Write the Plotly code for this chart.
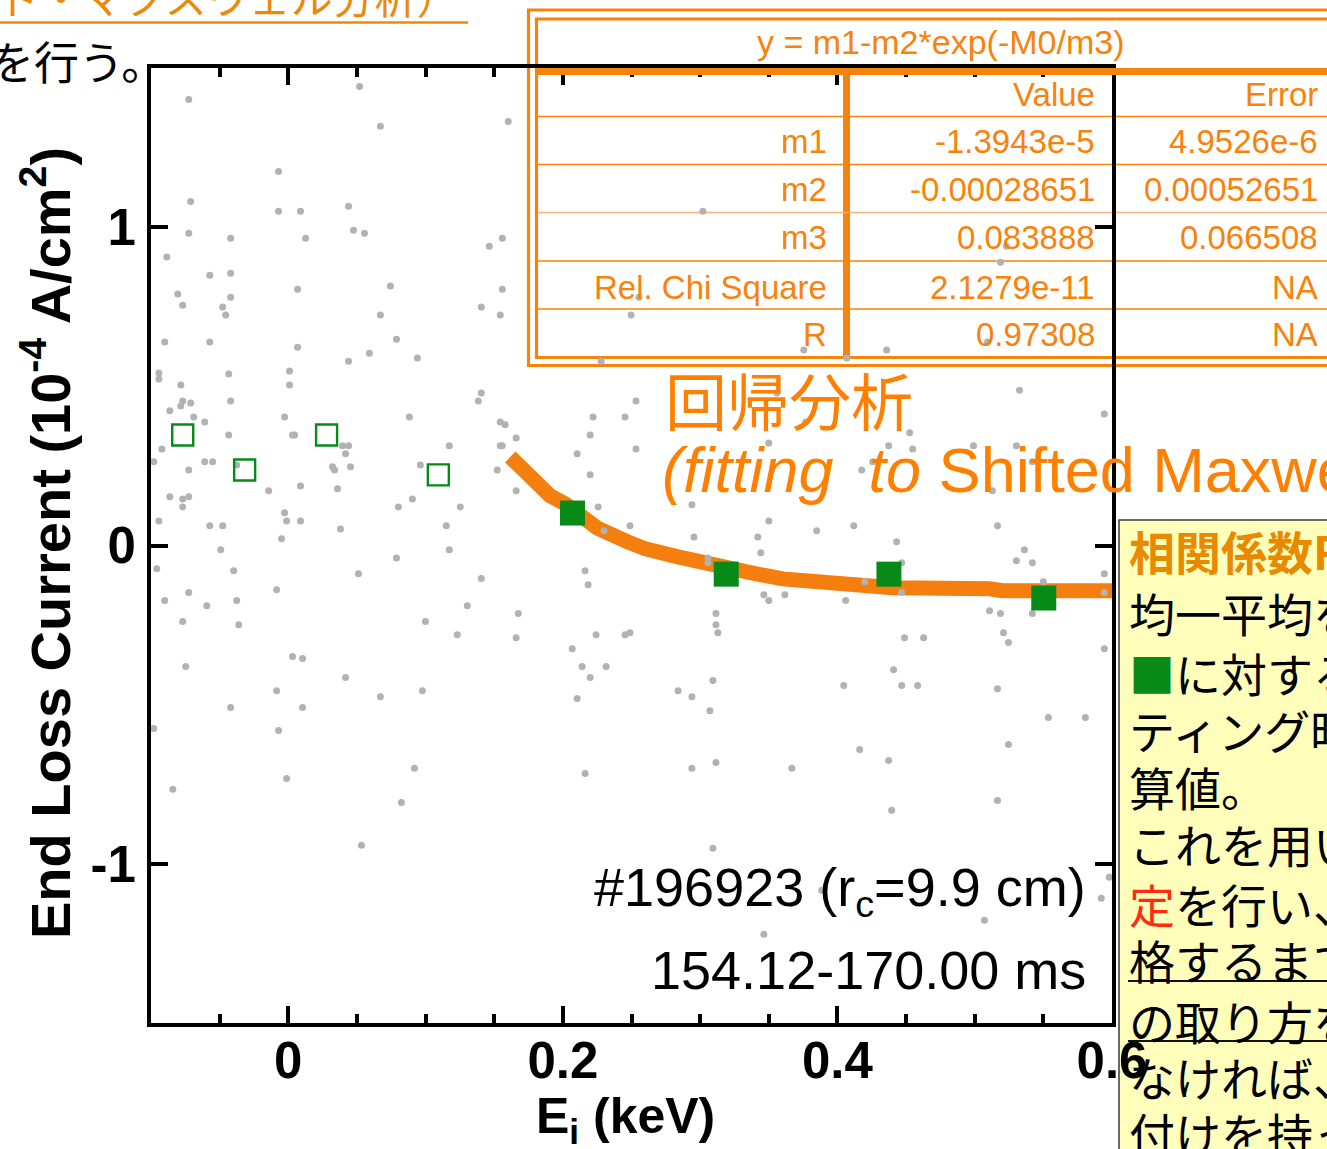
import plotly.graph_objects as go

# ---------------- data ----------------
noise_x = [-0.0725, 0.0519, 0.0671, -0.0071, -0.0711, -0.0071, 0.0089, 0.0439, -0.0725, -0.0420,
           0.0126, 0.0475, 0.0555, -0.0885, -0.0572, -0.0420, -0.0805, -0.0769, -0.0420, -0.0478,
           -0.0456, 0.0068, 0.0744, 0.0671, -0.0900, -0.0572, 0.0068, 0.0788, 0.0591, 0.0439,
           0.0940, -0.0943, -0.0943, -0.0783, -0.0434, 0.0009, 0.0009, 0.1602, 0.3020, 0.1559,
           0.1464, 0.1559, 0.1406, 0.1544, 0.2555, 0.2497, 0.2279, 0.5231, 0.5188, 0.3755,
           0.4068, 0.4359, 0.5093, -0.0769, -0.0783, -0.0711, -0.0420, -0.0863, -0.0689, -0.0609,
           -0.0027, 0.0882, -0.0434, 0.0031, 0.0046, 0.0395, 0.0439, 0.0417, -0.0921, -0.0980,
           -0.0609, -0.0551, -0.0376, -0.0725, 0.0322, 0.0337, 0.0453, 0.1173, 0.0962, 0.0089,
           -0.0143, 0.0359, -0.0863, -0.0769, -0.0725, -0.0769, 0.0904, 0.0802, 0.1253, -0.0943,
           -0.0027, -0.0012, 0.0089, -0.0572, -0.0478, 0.0380, 0.1151, -0.0049, -0.0492, 0.1173,
           0.0788, -0.0958, -0.0398, 0.0511, -0.0085, -0.0725, -0.0900, -0.0594, -0.0376, 0.1304,
           -0.0769, -0.0361, 0.0999, 0.1231, 0.0031, 0.0104, -0.0747, 0.0417, -0.0085, 0.0671,
           0.0977, -0.0420, 0.0104, -0.0980, -0.0071, -0.0841, -0.0012, 0.0919, 0.0824, 0.0533,
           0.1406, 0.1384, 0.2533, 0.2220, 0.2453, 0.1544, 0.1580, 0.1660, 0.2199, 0.1544,
           0.1559, 0.2533, 0.2104, 0.1522, 0.2199, 0.1660, 0.2940, 0.2257, 0.2489, 0.2300,
           0.2955, 0.3057, 0.3057, 0.2162, 0.2184, 0.1406, 0.1675, 0.1660, 0.2242, 0.2453,
           0.2489, 0.2068, 0.2140, 0.2315, 0.2199, 0.2104, 0.2839, 0.2940, 0.3093, 0.3115,
           0.3115, 0.3129, 0.3500, 0.3420, 0.3442, 0.3464, 0.3500, 0.3617, 0.3500, 0.3559,
           0.3071, 0.2162, 0.2940, 0.3115, 0.3093, 0.3464, 0.3668,
           0.5326, 0.5944, 0.3769, 0.4526, 0.4373, 0.4548, 0.4991, 0.5304, 0.4257, 0.4177,
           0.5420, 0.5129, 0.3849, 0.4119, 0.5166, 0.4431, 0.5362, 0.5304, 0.5420, 0.4468,
           0.5944, 0.4199, 0.5500, 0.4468, 0.5944, 0.4060, 0.5108, 0.5188, 0.5420, 0.5210,
           0.5246, 0.4489, 0.4628, 0.5944, 0.4409, 0.4046, 0.4468, 0.4584, 0.5166,
           0.5537, 0.5806, 0.5246, 0.4162, 0.4373, 0.5166, 0.4395, 0.5980, 0.5922, 0.5071, 0.3886]
noise_y = [1.401, 1.442, 1.317, 1.175, 1.081, 1.050, 1.050, 1.066, 0.981, 0.965,
           0.965, 0.990, 0.981, 0.906, 0.849, 0.855, 0.790, 0.755, 0.780, 0.749,
           0.724, 0.805, 0.815, 0.724, 0.639, 0.639, 0.623, 0.648, 0.604, 0.579,
           0.589, 0.542, 0.523, 0.504, 0.539, 0.548, 0.504, 1.332, 1.050, 0.965,
           0.940, 0.805, 0.749, 0.724, 0.780, 0.724, 0.579, 0.940, 0.890, 0.614,
           0.589, 0.614, 0.639, 0.454, 0.438, 0.448, 0.454, 0.423, 0.404, 0.388,
           0.404, 0.404, 0.347, 0.347, 0.347, 0.313, 0.313, 0.288, 0.303, 0.263,
           0.263, 0.263, 0.253, 0.237, 0.247, 0.237, 0.247, 0.313, 0.253, 0.187,
           0.172, 0.178, 0.153, 0.146, 0.153, 0.121, 0.146, 0.121, 0.121, 0.077,
           0.103, 0.077, 0.077, 0.062, 0.062, 0.052, 0.062, 0.021, -0.013, -0.013,
           -0.039, -0.073, -0.079, -0.089, -0.139, -0.148, -0.173, -0.189, -0.173, -0.189,
           -0.239, -0.249, -0.239, -0.280, -0.349, -0.355, -0.380, -0.415, -0.456, -0.475,
           -0.456, -0.509, -0.509, -0.575, -0.581, -0.766, -0.732, -0.700, -0.807, -0.942,
           0.479, 0.454, 0.454, 0.404, 0.404, 0.388, 0.379, 0.338, 0.347, 0.313,
           0.313, 0.303, 0.288, 0.237, 0.222, 0.172, 0.128, 0.121, 0.062, 0.046,
           0.027, -0.039, -0.054, -0.079, -0.123, -0.104, -0.214, -0.290, -0.280, -0.280,
           -0.274, -0.324, -0.380, -0.380, -0.415, -0.481, -0.456, -0.475, -0.424, -0.214,
           -0.249, -0.274, 0.077, 0.027, -0.023, -0.155, -0.173, -0.155, 0.322, 0.479,
           -0.519, -0.716, -0.700, -0.682, -0.951, -1.221, -0.700,
           0.488, 0.413, 0.388, 0.354, 0.313, 0.303, 0.313, 0.313, 0.263, 0.237,
           0.263, 0.172, 0.046, 0.062, 0.062, 0.012, -0.013, -0.048, -0.054, -0.054,
           -0.089, -0.114, -0.114, -0.148, -0.148, -0.173, -0.205, -0.214, -0.214, -0.274,
           -0.305, -0.290, -0.290, -0.324, -0.390, -0.440, -0.440, -0.440, -0.450,
           -0.540, -0.540, -0.625, -0.641, -0.675, -0.801, -0.832, -1.042, -1.108, -1.177, -1.083]

open_x = [-0.0769, -0.0318, 0.0279, 0.1093]
open_y = [0.347, 0.237, 0.347, 0.222]
fill_x = [0.207, 0.319, 0.4375, 0.5503]
fill_y = [0.102, -0.090, -0.090, -0.165]

fit_x = [0.1617, 0.1908, 0.2017, 0.2250, 0.2468, 0.2598, 0.2831, 0.3093, 0.3340, 0.3602,
         0.4089, 0.4402, 0.5108, 0.5202, 0.6053]
fit_y = [0.278, 0.156, 0.131, 0.055, 0.012, -0.010, -0.035, -0.064, -0.083, -0.105,
         -0.117, -0.133, -0.136, -0.142, -0.142]

x_tickvals = [0, 0.2, 0.4, 0.6]
x_ticktext = ["0", "0.2", "0.4", "0.6"]
y_tickvals = [-1, 0, 1]
y_ticktext = ["-1", "0", "1"]

fit_equation = "y = m1-m2*exp(-M0/m3)"
table_params = ["m1", "m2", "m3", "Rel. Chi Square", "R"]
table_values = ["-1.3943e-5", "-0.00028651", "0.083888", "2.1279e-11", "0.97308"]
table_errors = ["4.9526e-6", "0.00052651", "0.066508", "NA", "NA"]

shot_label = "#196923 (r<sub>c</sub>=9.9 cm)"
time_label = "154.12-170.00 ms"

note_lines = [
    "<b>相関係数Rの</b>",
    "均一平均を取る",
    "<span style='color:#078A18'>■</span>に対するフィッ",
    "ティング時の",
    "算値。",
    "これを用いて",
    "<span style='color:#FF2A10'>定</span>を行い、",
    "格するまで",
    "の取り方を",
    "なければ、",
    "付けを持っ",
]

# ---------------- layout helpers ----------------
W, H = 1327, 1149
L, R, T, B = 151, 1112, 68, 1023


def PX(px):
    return (px - L) / (R - L)


def PY(py):
    return (B - py) / (B - T)


ORANGE = "#F7820C"
GREEN = "#078A18"
LATIN = "Arial, 'Liberation Sans', sans-serif"
CJK = "'Noto Sans CJK JP', 'Noto Sans CJK SC', sans-serif"

fig = go.Figure()

fig.add_trace(go.Scatter(x=fit_x, y=fit_y, mode="lines",
                         line=dict(color="#F57F0E", width=15), hoverinfo="skip"))
fig.add_trace(go.Scatter(x=noise_x, y=noise_y, mode="markers",
                         marker=dict(color="#B2B2B2", size=7, line=dict(width=0)), hoverinfo="skip"))
fig.add_trace(go.Scatter(x=open_x, y=open_y, mode="markers",
                         marker=dict(symbol="square-open", size=21, color=GREEN, line=dict(width=2.4, color=GREEN))))
fig.add_trace(go.Scatter(x=fill_x, y=fill_y, mode="markers",
                         marker=dict(symbol="square", size=25, color=GREEN, line=dict(width=0))))

shapes = []


def line(x0, y0, x1, y1, color, width, layer="below"):
    shapes.append(dict(type="line", xref="paper", yref="paper",
                       x0=PX(x0), y0=PY(y0), x1=PX(x1), y1=PY(y1),
                       line=dict(color=color, width=width), layer=layer))


def rect(x0, y0, x1, y1, color, width, fill="rgba(0,0,0,0)", layer="below"):
    shapes.append(dict(type="rect", xref="paper", yref="paper",
                       x0=PX(x0), y0=PY(y0), x1=PX(x1), y1=PY(y1),
                       line=dict(color=color, width=width), fillcolor=fill, layer=layer))


# yellow note box
rect(1119, 520, 1345, 1165, "#3A3A3A", 1.5, fill="#FFFFBB")
line(1128, 981, 1345, 981, "#111111", 2)
line(1128, 1041, 1345, 1041, "#111111", 2)

# fit result table (double border)
rect(528.5, 10, 1360, 365.5, ORANGE, 3.2)
rect(536.5, 19, 1350, 357.5, ORANGE, 3.2)
line(536.5, 71.5, 1350, 71.5, ORANGE, 7, layer="above")
line(846.5, 75, 846.5, 357, ORANGE, 7)
row_lines = [116.5, 164.5, 212.5, 261, 309]
for i, yy in enumerate(row_lines):
    line(538, yy, 1350, yy, "#F9B07A" if i == 2 else ORANGE, 1.6)

# top-left underline
line(0, 22.5, 468, 22.5, "#E98A0C", 2.5)

fig.update_layout(shapes=shapes)

ann = []


def text(px, py, s, size, color="black", family=LATIN, xanchor="center", weight=None, angle=0):
    f = dict(size=size, color=color, family=family)
    if weight:
        f["weight"] = weight
    ann.append(dict(xref="paper", yref="paper", x=PX(px), y=PY(py), text=s, showarrow=False,
                    xanchor=xanchor, yanchor="middle", font=f, textangle=angle))


# table text
text(940, 42, fit_equation, 34, ORANGE)
text(1097, 94, "Value", 33, ORANGE, xanchor="right")
text(1320, 94, "Error", 33, ORANGE, xanchor="right")
row_y = [142, 190, 238, 287, 335]
for yy, p, v, e in zip(row_y, table_params, table_values, table_errors):
    text(829, yy, p, 33, ORANGE, xanchor="right")
    text(1097, yy, v, 33, ORANGE, xanchor="right")
    text(1320, yy, e, 33, ORANGE, xanchor="right")

# orange headline
text(663, 399, "回帰分析", 62, "#FF8000", family=CJK, xanchor="left")
text(660, 470, "<i>(fitting\u00a0\u00a0to</i> Shifted Maxwellian)", 63, "#FF8000", xanchor="left")

# shot info
text(1088, 891, shot_label, 54, "black", xanchor="right")
text(1088, 970, time_label, 54, "black", xanchor="right")

# axis titles
text(625, 1119, "E<sub>i</sub> (keV)", 50, "black", weight=700)
text(46, 543, "End Loss Current (10<sup>-4</sup> A/cm<sup>2</sup>)", 56, "black", weight=700, angle=-90)

# slide text around the chart
text(-4, -5, "ド・マクスウェル分析）", 42, "#E98A0C", family=CJK, xanchor="left")
text(-13, 61, "を行う。", 45, "black", family=CJK, xanchor="left")

note_y = [550, 612, 672, 729, 786, 843, 903, 959, 1020, 1076, 1132]
for i, (yy, s) in enumerate(zip(note_y, note_lines)):
    text(1127, yy, s, 46, "#E88A00" if i == 0 else "black", family=CJK, xanchor="left")

fig.update_layout(annotations=ann)

fig.update_layout(
    width=W, height=H,
    margin=dict(l=L, r=W - R, t=T, b=H - B, pad=0),
    paper_bgcolor="white", plot_bgcolor="rgba(0,0,0,0)",
    showlegend=False,
    xaxis=dict(range=[-0.1, 0.6], tickvals=x_tickvals, ticktext=x_ticktext,
               showgrid=False, zeroline=False, showline=True, linecolor="black", linewidth=4,
               mirror="ticks", ticks="inside", ticklen=17, tickwidth=4, tickcolor="black",
               tickfont=dict(family=LATIN, size=51, color="black", weight=700),
               ticklabelstandoff=-10, automargin=False,
               minor=dict(dtick=0.05, tick0=0, ticks="inside", ticklen=9, tickwidth=4,
                          tickcolor="black", showgrid=False)),
    yaxis=dict(range=[-1.5, 1.5], tickvals=y_tickvals, ticktext=y_ticktext,
               showgrid=False, zeroline=False, showline=True, linecolor="black", linewidth=4,
               mirror="ticks", ticks="inside", ticklen=17, tickwidth=4, tickcolor="black",
               tickfont=dict(family=LATIN, size=51, color="black", weight=700),
               ticklabelstandoff=1, automargin=False),
)

fig.write_html("out.html", config={"displayModeBar": False},
               post_script="document.body.style.margin='0px';document.body.style.overflow='hidden';")
